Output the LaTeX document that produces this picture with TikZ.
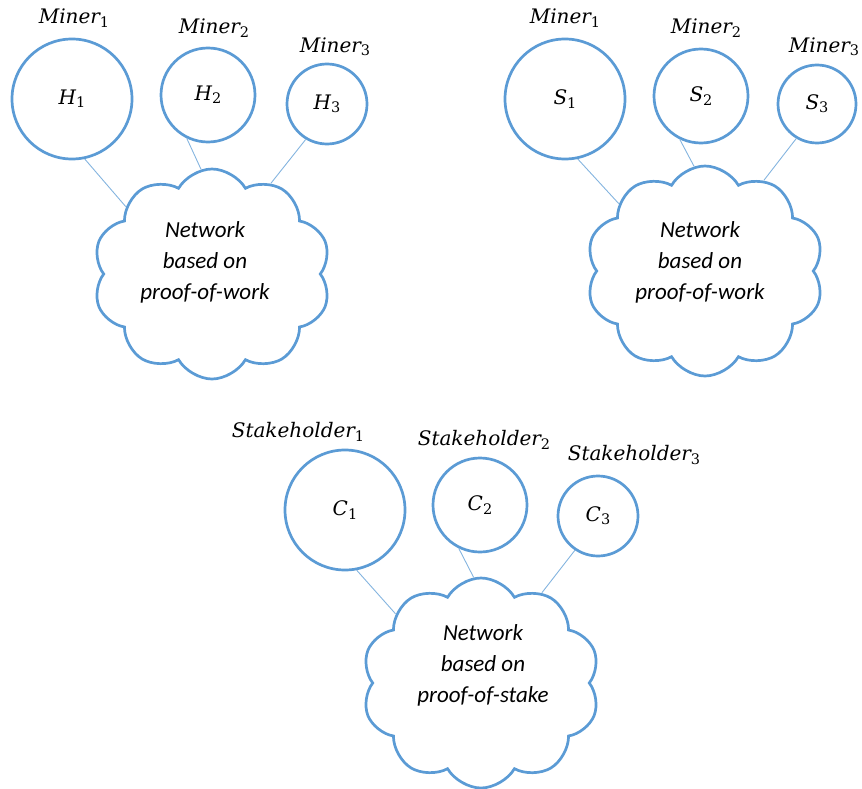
\documentclass[tikz,border=0pt]{standalone}
\usepackage{fontspec}
\setmainfont{Carlito}
\newfontfamily\labfont{DejaVu Serif}
\usetikzlibrary{shapes.symbols}
\definecolor{offblue}{HTML}{5B9BD5}
\newcommand{\lbl}[2]{{\labfont\itshape #1}\raisebox{-0.35ex}{\labfont\fontsize{14.5}{15}\selectfont #2}}
\begin{document}
\begin{tikzpicture}[x=1pt,y=-1pt,
  peer/.style={circle,draw=offblue,line width=2.7pt,inner sep=0pt,font=\fontsize{20}{24}\selectfont},
  net/.style={cloud,draw=offblue,line width=2.7pt,cloud puffs=10,cloud puff arc=120,aspect=1.1,
     minimum width=238pt,minimum height=210pt,inner sep=0pt},
  nettext/.style={font=\fontsize{23}{31}\selectfont\itshape,align=center},
  lab/.style={font=\fontsize{20}{24}\selectfont,inner sep=0pt},
  link/.style={draw=offblue!75,line width=0.9pt}]
\useasboundingbox (0,0) rectangle (862,789);
% top-left
\node[peer,minimum size=120pt] (H1) at (72,99) {\lbl{H}{1}};
\node[peer,minimum size=94pt] (H2) at (208,95) {\lbl{H}{2}};
\node[peer,minimum size=80pt] (H3) at (327,104) {\lbl{H}{3}};
\node[lab] (mh1) at (74,18) {\lbl{Miner}{1}};
\node[lab] (mh2) at (214,28) {\lbl{Miner}{2}};
\node[lab] (mh3) at (335,47) {\lbl{Miner}{3}};
\node[net] (N1) at (212,274) {};
\node[nettext] (t1) at (205,262) {Network\\ based on\\proof-of-work};
\draw[link] (H1.-78) -- (N1.142);
\draw[link] (H2.-116) -- (N1.96);
\draw[link] (H3.-121) -- (N1.57);
% top-right
\node[peer,minimum size=120pt] (S1) at (565,99) {\lbl{S}{1}};
\node[peer,minimum size=94pt] (S2) at (701,96) {\lbl{S}{2}};
\node[peer,minimum size=78pt] (S3) at (817,104) {\lbl{S}{3}};
\node[lab] (ms1) at (565,18) {\lbl{Miner}{1}};
\node[lab] (ms2) at (706,28) {\lbl{Miner}{2}};
\node[lab] (ms3) at (824,47) {\lbl{Miner}{3}};
\node[net] (N2) at (705,271) {};
\node[nettext] (t2) at (700,262) {Network\\ based on\\proof-of-work};
\draw[link] (S1.-78) -- (N2.142);
\draw[link] (S2.-116) -- (N2.96);
\draw[link] (S3.-121) -- (N2.57);
% bottom
\node[peer,minimum size=120pt] (C1) at (345,510) {\lbl{C}{1}};
\node[peer,minimum size=94pt] (C2) at (480,505) {\lbl{C}{2}};
\node[peer,minimum size=80pt] (C3) at (598,516) {\lbl{C}{3}};
\node[lab] (mc1) at (298,432) {\lbl{Stakeholder}{1}};
\node[lab] (mc2) at (484,440) {\lbl{Stakeholder}{2}};
\node[lab] (mc3) at (634,455) {\lbl{Stakeholder}{3}};
\node[net] (N3) at (481,683) {};
\node[nettext] (t3) at (483,665) {Network\\ based on\\proof-of-stake};
\draw[link] (C1.-79) -- (N3.141);
\draw[link] (C2.-116) -- (N3.94);
\draw[link] (C3.-124) -- (N3.56);
\end{tikzpicture}
\end{document}
